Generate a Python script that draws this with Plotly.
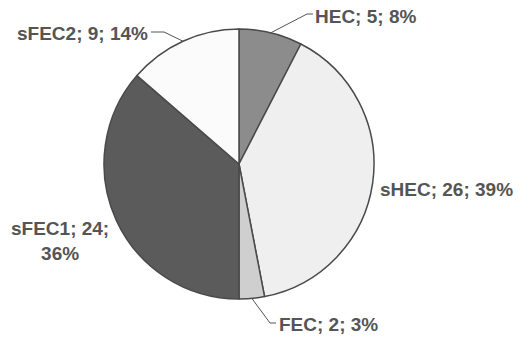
import math
import plotly.graph_objects as go

categories = ["HEC", "sHEC", "FEC", "sFEC1", "sFEC2"]
counts = [5, 26, 2, 24, 9]
percent_labels = ["8%", "39%", "3%", "36%", "14%"]
slice_colors = ["#8c8c8c", "#efefef", "#cfcfcf", "#5b5b5b", "#fbfbfb"]

W, H = 529, 339
CX, CY, R = 239, 164, 135  # pie geometry in pixels

fig = go.Figure(go.Pie(
    labels=categories,
    values=counts,
    sort=False,
    direction="clockwise",
    rotation=0,
    textinfo="none",
    hoverinfo="label+value+percent",
    marker=dict(colors=slice_colors, line=dict(color="#4a4a4a", width=1.5)),
    domain=dict(x=[(CX - R) / W, (CX + R) / W], y=[(H - CY - R) / H, (H - CY + R) / H]),
    showlegend=False,
))

def px(x):
    return x / W

def py(y):
    return 1 - y / H

total = sum(counts)
cum = 0
mids = []
for v in counts:
    mids.append((cum + v / 2) / total * 360)
    cum += v

def edge(i):
    a = math.radians(mids[i])
    return CX + R * math.sin(a), CY - R * math.cos(a)

# label anchor positions (pixels): (x, y, xanchor, elbow points)
label_pos = {
    "HEC": dict(x=313, y=16, xanchor="left", elbow=[(307, 14), (313, 14)]),
    "sHEC": dict(x=378, y=189, xanchor="left", elbow=None),
    "FEC": dict(x=277, y=324, xanchor="left", elbow=[(270, 323), (276, 323)]),
    "sFEC1": dict(x=60, y=241, xanchor="center", elbow=None),
    "sFEC2": dict(x=150, y=33, xanchor="right", elbow=[(164, 32), (151, 32)]),
}

font = dict(family="Liberation Sans, Arial, sans-serif", size=19, color="#555555")
annotations = []
shapes = []
for i, (c, v, p) in enumerate(zip(categories, counts, percent_labels)):
    lp = label_pos[c]
    if c == "sFEC1":
        text = f"<b>{c}; {v};<br>{p}</b>"
    else:
        text = f"<b>{c}; {v}; {p}</b>"
    annotations.append(dict(
        x=px(lp["x"]), y=py(lp["y"]), xref="paper", yref="paper",
        text=text, showarrow=False, xanchor=lp["xanchor"], yanchor="middle",
        align="center", font=font,
    ))
    if lp["elbow"]:
        ex, ey = edge(i)
        pts = [(ex, ey)] + lp["elbow"]
        path = "M " + " L ".join(f"{px(a):.5f},{py(b):.5f}" for a, b in pts)
        shapes.append(dict(type="path", path=path, xref="paper", yref="paper",
                           line=dict(color="#555555", width=1)))

fig.update_layout(
    width=W, height=H,
    margin=dict(l=0, r=0, t=0, b=0),
    paper_bgcolor="white", plot_bgcolor="white",
    annotations=annotations, shapes=shapes,
)

fig.write_html("out.html")
